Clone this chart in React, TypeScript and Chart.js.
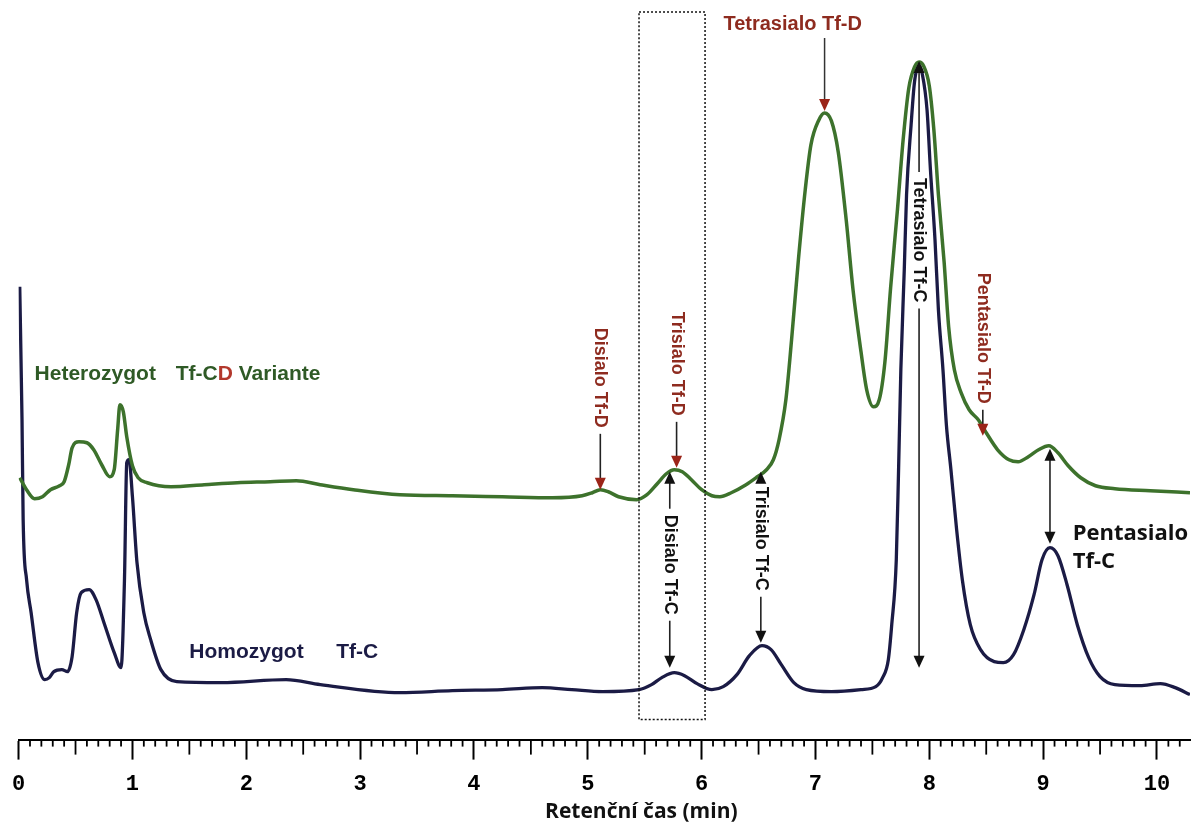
import React, { useEffect, useRef } from "react";
import { Chart, registerables } from "chart.js";

Chart.register(...registerables);

// ---- Data (retention time in minutes, detector signal in arbitrary units) ----
// Heterozygot Tf-CD Variante (green trace)
const heteroTime = [
  0.01, 0.07, 0.14, 0.21, 0.28, 0.36, 0.40, 0.44, 0.47, 0.53,
  0.60, 0.66, 0.73, 0.80, 0.84, 0.87, 0.89, 0.92, 0.95, 1.00,
  1.05, 1.13, 1.34, 1.63, 1.92, 2.21, 2.44, 2.65, 2.94, 3.35,
  3.81, 4.25, 4.69, 4.95, 5.04, 5.11, 5.18, 5.27, 5.43, 5.52,
  5.61, 5.69, 5.76, 5.83, 5.91, 6.00, 6.09, 6.16, 6.26, 6.39,
  6.49, 6.57, 6.63, 6.68, 6.74, 6.79, 6.85, 6.91, 6.96, 7.03,
  7.08, 7.14, 7.20, 7.27, 7.33, 7.40, 7.45, 7.51, 7.56, 7.61,
  7.66, 7.72, 7.77, 7.82, 7.87, 7.91, 7.95, 8.00, 8.04, 8.08,
  8.13, 8.17, 8.22, 8.28, 8.35, 8.43, 8.50, 8.60, 8.70, 8.78,
  8.87, 8.96, 9.05, 9.13, 9.22, 9.33, 9.46, 9.63, 9.94, 10.29,
];
const heteroSignal = [
  26.2, 25.0, 24.1, 24.3, 25.0, 25.4, 25.8, 27.5, 29.2, 29.8,
  29.7, 29.0, 27.5, 26.3, 27.0, 31.0, 33.5, 32.8, 30.3, 27.4,
  26.2, 25.7, 25.3, 25.5, 25.7, 25.8, 25.9, 25.5, 25.0, 24.5,
  24.4, 24.3, 24.2, 24.4, 24.7, 25.0, 24.8, 24.3, 24.0, 24.5,
  25.6, 26.6, 27.0, 26.8, 26.0, 25.0, 24.4, 24.3, 24.7, 25.5,
  26.3, 27.0, 28.0, 30.0, 34.0, 40.0, 48.0, 55.0, 59.5, 62.0,
  62.7, 61.9, 58.8, 52.0, 45.0, 38.8, 35.0, 33.3, 34.0, 37.8,
  45.2, 53.0, 60.0, 65.2, 67.3, 67.8, 67.4, 65.4, 61.0, 54.5,
  47.8, 41.3, 37.0, 34.7, 33.0, 32.0, 30.7, 29.0, 28.0, 27.8,
  28.3, 29.0, 29.4, 28.7, 27.4, 26.2, 25.4, 25.1, 24.9, 24.7,
];

// Homozygot Tf-C (navy trace)
const homoTime = [
  0.01, 0.03, 0.04, 0.07, 0.11, 0.17, 0.23, 0.27, 0.31, 0.38,
  0.43, 0.47, 0.51, 0.55, 0.62, 0.68, 0.75, 0.84, 0.90, 0.93,
  0.95, 0.97, 1.00, 1.04, 1.10, 1.16, 1.25, 1.39, 1.78, 2.35,
  2.65, 3.35, 3.81, 4.25, 4.60, 4.86, 5.13, 5.45, 5.56, 5.65,
  5.76, 5.85, 5.96, 6.09, 6.19, 6.31, 6.42, 6.53, 6.61, 6.70,
  6.81, 6.92, 7.14, 7.40, 7.53, 7.59, 7.64, 7.67, 7.71, 7.73,
  7.75, 7.78, 7.80, 7.84, 7.87, 7.91, 7.94, 7.98, 8.01, 8.05,
  8.08, 8.12, 8.15, 8.19, 8.24, 8.29, 8.36, 8.45, 8.57, 8.65,
  8.74, 8.83, 8.92, 8.99, 9.06, 9.13, 9.21, 9.30, 9.40, 9.50,
  9.63, 9.85, 10.03, 10.16, 10.29,
];
const homoSignal = [
  45.3, 32.0, 22.0, 16.0, 12.7, 7.7, 6.0, 6.2, 6.8, 7.0,
  6.8, 8.3, 12.7, 14.7, 15.0, 14.0, 11.7, 8.7, 7.2, 16.0,
  27.7, 28.0, 24.3, 17.7, 12.7, 10.0, 7.0, 5.8, 5.7, 6.0,
  5.5, 4.7, 4.9, 5.0, 5.2, 5.0, 4.8, 5.0, 5.5, 6.2,
  6.7, 6.4, 5.6, 5.0, 5.3, 6.5, 8.4, 9.4, 9.0, 7.5,
  5.7, 5.0, 4.8, 5.0, 5.3, 6.2, 8.0, 11.5, 18.0, 27.0,
  37.0, 47.0, 54.5, 61.5, 65.8, 67.4, 66.5, 63.0, 57.0, 50.0,
  43.0, 37.0, 31.5, 27.0, 21.0, 16.0, 11.5, 9.0, 7.8, 7.7,
  8.5, 11.0, 14.5, 18.0, 19.2, 18.4, 15.5, 11.5, 8.2, 6.3,
  5.5, 5.4, 5.6, 5.2, 4.5,
];

const tickStep = 1; // major ticks every minute, labels 0..10
const axisTitle = "Retenční čas (min)";

// ---- Annotation definitions (in data units: minutes / signal) ----
const RED = "#8e2b1f";
const BLACK = "#111111";
const GREEN_TEXT = "#2f5a26";
const NAVY = "#1b1b45";

type VLabel = {
  text: string;
  t: number;
  color: string;
  textStart: number;
  upTip?: number;
  downTip?: number;
};

const verticalLabels: VLabel[] = [
  { text: "Disialo Tf-D", t: 5.11, color: RED, textStart: 41.2, downTip: 25.0 },
  { text: "Trisialo Tf-D", t: 5.78, color: RED, textStart: 42.8, downTip: 27.2 },
  { text: "Disialo Tf-C", t: 5.72, color: BLACK, upTip: 26.8, textStart: 22.5, downTip: 7.2 },
  { text: "Trisialo Tf-C", t: 6.52, color: BLACK, upTip: 26.8, textStart: 25.3, downTip: 9.7 },
  { text: "Tetrasialo Tf-C", t: 7.91, color: BLACK, upTip: 67.9, textStart: 56.2, downTip: 7.2 },
  { text: "Pentasialo Tf-D", t: 8.47, color: RED, textStart: 46.7, downTip: 30.4 },
];

function arrowHead(ctx: CanvasRenderingContext2D, x: number, tipY: number, dir: number, color: string) {
  ctx.fillStyle = color;
  ctx.beginPath();
  ctx.moveTo(x, tipY);
  ctx.lineTo(x - 5.5, tipY - dir * 12);
  ctx.lineTo(x + 5.5, tipY - dir * 12);
  ctx.closePath();
  ctx.fill();
}

function vline(ctx: CanvasRenderingContext2D, x: number, y1: number, y2: number) {
  ctx.beginPath();
  ctx.moveTo(x, y1);
  ctx.lineTo(x, y2);
  ctx.stroke();
}

const decorPlugin = {
  id: "decor",
  afterDraw(chart: any) {
    const { ctx, chartArea } = chart;
    const xs = chart.scales.x;
    const ys = chart.scales.y;
    const X = (t: number) => xs.getPixelForValue(t);
    const Y = (v: number) => ys.getPixelForValue(v);
    ctx.save();

    // minor ticks on the time axis
    ctx.strokeStyle = "#000";
    ctx.lineWidth = 1.8;
    for (let i = 1; i <= 200; i++) {
      if (i % 10 === 0) continue;
      const t = i / 10;
      if (t > xs.max) break;
      const px = X(t);
      const len = i % 5 === 0 ? 15 : 7;
      vline(ctx, px, chartArea.bottom, chartArea.bottom + len);
    }

    // dotted box
    ctx.save();
    ctx.setLineDash([2, 2]);
    ctx.lineWidth = 1.5;
    ctx.strokeStyle = "#111";
    ctx.strokeRect(X(5.45), Y(72.8), X(6.03) - X(5.45), Y(2.0) - Y(72.8));
    ctx.restore();

    // vertical labels with arrows
    ctx.font = 'bold 18px "Liberation Sans", Arial, sans-serif';
    for (const a of verticalLabels) {
      const x = X(a.t);
      const w = ctx.measureText(a.text).width;
      const ts = Y(a.textStart);
      const te = ts + w;
      const headColor = a.color === RED ? "#9b2418" : "#111";
      ctx.strokeStyle = "#222";
      ctx.lineWidth = 1.6;
      if (a.upTip !== undefined) {
        const tip = Y(a.upTip);
        vline(ctx, x, tip + 8, ts - 6);
        arrowHead(ctx, x, tip, -1, headColor);
      }
      if (a.downTip !== undefined) {
        const tip = Y(a.downTip);
        vline(ctx, x, te + 6, tip - 8);
        arrowHead(ctx, x, tip, 1, headColor);
      }
      ctx.save();
      ctx.translate(x, ts);
      ctx.rotate(Math.PI / 2);
      ctx.textAlign = "left";
      ctx.textBaseline = "middle";
      ctx.fillStyle = a.color;
      ctx.fillText(a.text, 0, 0);
      ctx.restore();
    }

    // Pentasialo Tf-C double arrow
    {
      const x = X(9.06);
      const up = Y(29.1);
      const down = Y(19.6);
      ctx.strokeStyle = "#222";
      ctx.lineWidth = 1.6;
      vline(ctx, x, up + 8, down - 8);
      arrowHead(ctx, x, up, -1, "#111");
      arrowHead(ctx, x, down, 1, "#111");
    }

    // Tetrasialo Tf-D (horizontal label + arrow)
    ctx.font = 'bold 20px "Liberation Sans", Arial, sans-serif';
    ctx.textAlign = "center";
    ctx.textBaseline = "alphabetic";
    ctx.fillStyle = RED;
    ctx.fillText("Tetrasialo Tf-D", X(6.8), Y(71.0));
    ctx.strokeStyle = "#333";
    ctx.lineWidth = 1.5;
    vline(ctx, X(7.08), Y(70.2), Y(62.9) - 8);
    arrowHead(ctx, X(7.08), Y(62.9), 1, "#9b2418");

    // Trace names
    ctx.textAlign = "left";
    ctx.font = 'bold 21px "Liberation Sans", Arial, sans-serif';
    ctx.fillStyle = GREEN_TEXT;
    ctx.fillText("Heterozygot", X(0.14), Y(36.0));
    let hx = X(1.38);
    ctx.fillText("Tf-C", hx, Y(36.0));
    hx += ctx.measureText("Tf-C").width;
    ctx.fillStyle = "#b3382c";
    ctx.fillText("D", hx, Y(36.0));
    hx += ctx.measureText("D").width;
    ctx.fillStyle = GREEN_TEXT;
    ctx.fillText(" Variante", hx, Y(36.0));

    ctx.fillStyle = NAVY;
    ctx.fillText("Homozygot", X(1.5), Y(8.2));
    ctx.fillText("Tf-C", X(2.79), Y(8.2));

    ctx.font = 'bold 22px "Open Sans", sans-serif';
    ctx.fillStyle = "#111";
    ctx.fillText("Pentasialo", X(9.26), Y(20.0));
    ctx.fillText("Tf-C", X(9.26), Y(17.2));

    // axis title
    ctx.font = 'bold 21px "Open Sans", sans-serif';
    ctx.textAlign = "center";
    ctx.fillStyle = "#111";
    ctx.fillText(axisTitle, X(5.47), chart.height - 12);

    ctx.restore();
  },
};

export default function App() {
  const ref = useRef<HTMLCanvasElement | null>(null);

  useEffect(() => {
    if (!ref.current) return;
    const hetero = heteroTime.map((t, i) => ({ x: t, y: heteroSignal[i] }));
    const homo = homoTime.map((t, i) => ({ x: t, y: homoSignal[i] }));
    const chart = new Chart(ref.current, {
      type: "line",
      data: {
        datasets: [
          {
            label: "Heterozygot Tf-CD Variante",
            data: hetero,
            borderColor: "#3d722c",
            borderWidth: 3.5,
            pointRadius: 0,
            cubicInterpolationMode: "monotone",
            fill: false,
            order: 0,
          },
          {
            label: "Homozygot Tf-C",
            data: homo,
            borderColor: "#1b1b45",
            borderWidth: 3.3,
            pointRadius: 0,
            cubicInterpolationMode: "monotone",
            fill: false,
            order: 1,
          },
        ],
      },
      options: {
        animation: false,
        responsive: false,
        layout: { padding: { left: 6, right: 10, top: 0, bottom: 20 } },
        plugins: {
          legend: { display: false },
          tooltip: { enabled: false },
          title: { display: false },
        },
        scales: {
          x: {
            type: "linear",
            min: 0,
            max: 10.29,
            grid: {
              display: true,
              drawOnChartArea: false,
              drawTicks: true,
              tickLength: 20,
              tickColor: "#000",
              tickWidth: 2,
            },
            border: { display: true, color: "#000", width: 2 },
            ticks: {
              stepSize: tickStep,
              includeBounds: false,
              autoSkip: false,
              maxRotation: 0,
              padding: 12,
              color: "#000",
              font: { family: '"Liberation Mono", "DejaVu Sans Mono", monospace', size: 22, weight: "bold" },
              callback: (v: any) => String(v),
            },
          },
          y: {
            type: "linear",
            display: false,
            min: 0,
            max: 74,
          },
        },
      },
      plugins: [decorPlugin],
    } as any);
    return () => chart.destroy();
  }, []);

  return (
    <div style={{ position: "fixed", left: 0, top: 0, width: 1200, height: 830, background: "#fff" }}>
      <canvas ref={ref} width={1200} height={830} style={{ display: "block" }} />
    </div>
  );
}
